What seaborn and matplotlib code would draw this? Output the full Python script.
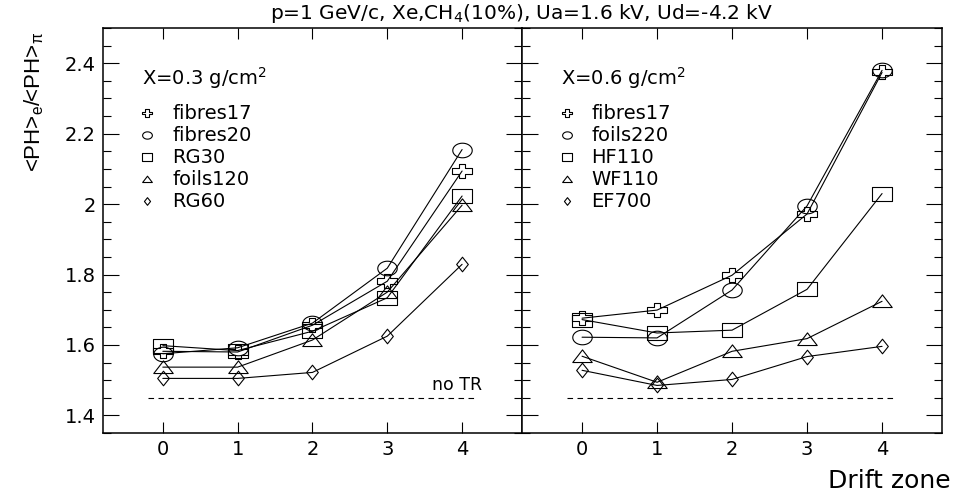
import numpy as np
import matplotlib
matplotlib.use("Agg")
import matplotlib.pyplot as plt
from matplotlib.path import Path
from matplotlib.lines import Line2D
from matplotlib.ticker import MultipleLocator, FuncFormatter, NullLocator
import seaborn as sns

# -----------------------------
# DATA
# -----------------------------

zones = [0, 1, 2, 3, 4]

# left panel, X = 0.3 g/cm2
left_labels = ["fibres17", "fibres20", "RG30", "foils120", "RG60"]
left_fibres17 = [1.582, 1.580, 1.656, 1.781, 2.094]
left_fibres20 = [1.575, 1.592, 1.662, 1.818, 2.155]
left_rg30 = [1.598, 1.584, 1.639, 1.734, 2.023]
left_foils120 = [1.537, 1.537, 1.614, 1.750, 1.997]
left_rg60 = [1.505, 1.505, 1.522, 1.625, 1.829]

# right panel, X = 0.6 g/cm2
right_labels = ["fibres17", "foils220", "HF110", "WF110", "EF700"]
right_fibres17 = [1.676, 1.699, 1.798, 1.972, 2.374]
right_foils220 = [1.622, 1.620, 1.756, 1.995, 2.380]
right_hf110 = [1.672, 1.634, 1.642, 1.758, 2.030]
right_wf110 = [1.568, 1.494, 1.582, 1.618, 1.724]
right_ef700 = [1.528, 1.485, 1.502, 1.567, 1.596]

notr_level = 1.45
notr_span = (-0.2, 4.2)

title = "p=1 GeV/c, Xe,CH$_4$(10%), Ua=1.6 kV, Ud=-4.2 kV"

# -----------------------------
# MARKERS (open, slightly wide like the original)
# -----------------------------

t = np.linspace(0, 2 * np.pi, 60)
m_circle = Path(np.column_stack([np.cos(t), 0.75 * np.sin(t)]), closed=True)
m_square = Path([(-1, -0.75), (1, -0.75), (1, 0.75), (-1, 0.75), (-1, -0.75)], closed=True)
m_triangle = Path([(-1, -0.62), (1, -0.62), (0, 0.68), (-1, -0.62)], closed=True)
m_diamond = Path([(0, -1), (0.8, 0), (0, 1), (-0.8, 0), (0, -1)], closed=True)
a, b = 0.33, 0.27
m_cross = Path([(-a, 0.75), (a, 0.75), (a, b), (1, b), (1, -b), (a, -b), (a, -0.75),
                (-a, -0.75), (-a, -b), (-1, -b), (-1, b), (-a, b), (-a, 0.75)], closed=True)

# marker, size in plot, size in legend
left_markers = [(m_cross, 14, 7), (m_circle, 14, 7), (m_square, 14, 7),
                (m_triangle, 14, 7), (m_diamond, 10.5, 5.5)]
right_markers = left_markers

sns.set_style("ticks")
plt.rcParams['font.family'] = ['DejaVu Sans']
plt.rcParams['mathtext.default'] = 'regular'
plt.rcParams['text.color'] = 'black'
plt.rcParams['axes.labelcolor'] = 'black'
plt.rcParams['xtick.color'] = 'black'
plt.rcParams['ytick.color'] = 'black'

fig = plt.figure(figsize=(9.57, 4.95), dpi=100)
ax_l = fig.add_axes([0.1076, 0.1253, 0.4378, 0.818])
ax_r = fig.add_axes([0.5455, 0.1253, 0.4389, 0.818])

panels = [
    (ax_l, "X=0.3 g/cm$^2$", left_labels,
     [left_fibres17, left_fibres20, left_rg30, left_foils120, left_rg60], left_markers),
    (ax_r, "X=0.6 g/cm$^2$", right_labels,
     [right_fibres17, right_foils220, right_hf110, right_wf110, right_ef700], right_markers),
]

for ax, head, labels, series, markers in panels:
    for vals, (mk, ms, _) in zip(series, markers):
        sns.lineplot(x=zones, y=vals, ax=ax, color="black", linewidth=0.8,
                     marker=mk, markersize=ms, markerfacecolor="none",
                     markeredgecolor="black", markeredgewidth=0.8, legend=False)

    ax.hlines(notr_level, *notr_span, colors="black", linewidth=0.8,
              linestyles=(0, (5, 4)))

    # legend block
    ax.text(0.093, 0.877, head, transform=ax.transAxes, fontsize=14,
            ha="left", va="center")
    for i, (lab, (mk, _, lms)) in enumerate(zip(labels, markers)):
        yy = 0.790 - i * 0.0545
        ax.add_line(Line2D([0.106], [yy], transform=ax.transAxes, marker=mk,
                           markersize=lms, markerfacecolor="none",
                           markeredgecolor="black", markeredgewidth=0.8,
                           linestyle="none"))
        ax.text(0.165, yy, lab, transform=ax.transAxes, fontsize=14,
                ha="left", va="center")

    ax.set_xlim(-0.8, 4.8)
    ax.set_ylim(1.35, 2.5)
    ax.set_xticks(zones)
    ax.xaxis.set_minor_locator(NullLocator())
    ax.yaxis.set_major_locator(MultipleLocator(0.2))
    ax.yaxis.set_minor_locator(MultipleLocator(0.05))
    ax.yaxis.set_major_formatter(FuncFormatter(lambda v, p: "%g" % round(v, 2)))
    ax.tick_params(axis="both", which="both", direction="in", top=True,
                   right=True, width=0.8, labelsize=14, colors="black")
    ax.tick_params(axis="y", which="major", length=11.5, pad=5)
    ax.tick_params(axis="y", which="minor", length=5.8)
    ax.tick_params(axis="x", which="major", length=8, pad=5)
    for sp in ax.spines.values():
        sp.set_linewidth(1.1)
        sp.set_color("black")
    ax.set_xlabel("")
    ax.set_ylabel("")

ax_r.tick_params(axis="y", which="both", labelleft=False)
ax_l.text(3.6, 1.46, "no TR", fontsize=12.5, ha="left", va="bottom")

fig.text(0.545, 0.972, title, fontsize=14.5, ha="center", va="center")
fig.text(0.036, 0.935, "<PH>$_e$/<PH>$_\\pi$", fontsize=16, rotation=90,
         ha="center", va="top", family=["Liberation Sans", "DejaVu Sans"])
fig.text(0.993, 0.028, "Drift zone", fontsize=18, ha="right", va="center")

fig.savefig("out.png", dpi=100)
